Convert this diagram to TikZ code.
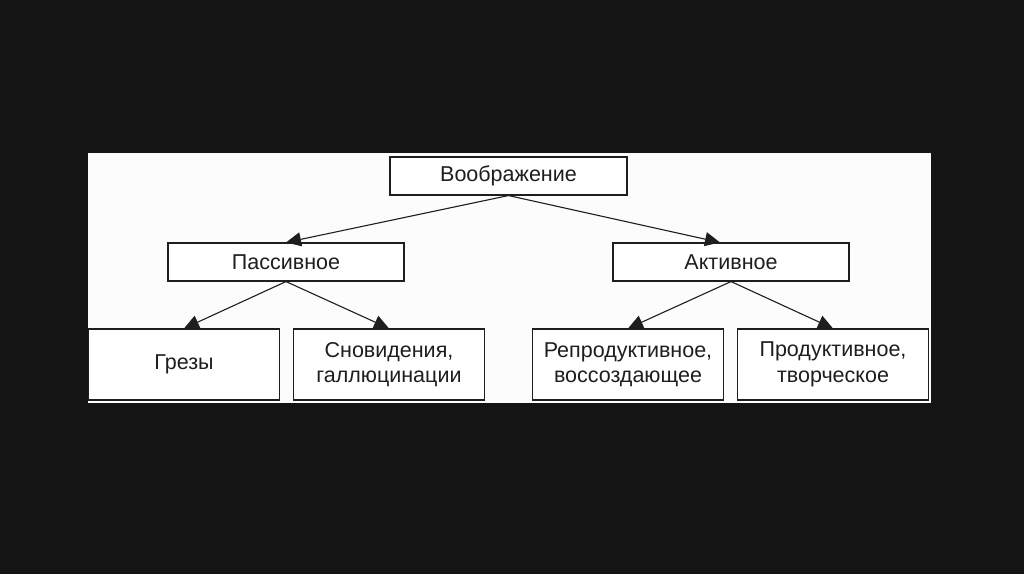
\documentclass[tikz,border=0pt]{standalone}
\usepackage{fontspec}
\setmainfont{Liberation Sans}
\usetikzlibrary{arrows.meta,calc}
\definecolor{bg}{RGB}{20,20,20}
\definecolor{panel}{RGB}{252,252,252}
\definecolor{ink}{RGB}{30,30,30}
\tikzset{
  box/.style={draw=ink, line width=1.1pt, fill=white, inner sep=0pt, align=center,
    text=ink, font=\fontsize{21.5}{25.5}\selectfont},
  topbox/.style={box, minimum width=237pt, minimum height=38pt},
  midbox/.style={box, minimum width=236pt, minimum height=38pt},
  lowbox/.style={box, minimum width=191pt, minimum height=71pt},
  arr/.style={draw=ink, line width=1.1pt, -{Triangle[length=15pt,width=14pt]}}
}
\begin{document}
\begin{tikzpicture}[x=1pt,y=-1pt]
\useasboundingbox (0,0) rectangle (1024,574);
\fill[bg] (0,0) rectangle (1024,574);
\fill[panel] (88,153) rectangle (931,403);
\node[topbox] (top) at (508.5,176) {Воображение};
\node[midbox] (pas) at (286,262) {Пассивное};
\node[midbox] (act) at (731,262) {Активное};
\node[lowbox] (gr) at (184,364.5) {Грезы};
\node[lowbox] (sn) at (389,364.5) {Сновидения,\\галлюцинации};
\node[lowbox] (rep) at (628,364.5) {Репродуктивное,\\воссоздающее};
\node[lowbox] (pro) at (833,364.5) {Продуктивное,\\творческое};
\draw[arr] (top.south) -- (pas.north);
\draw[arr] (top.south) -- ($(act.north)+(-11,0)$);
\draw[arr] (pas.south) -- (gr.north);
\draw[arr] (pas.south) -- (sn.north);
\draw[arr] (act.south) -- (rep.north);
\draw[arr] (act.south) -- (pro.north);
\end{tikzpicture}
\end{document}
